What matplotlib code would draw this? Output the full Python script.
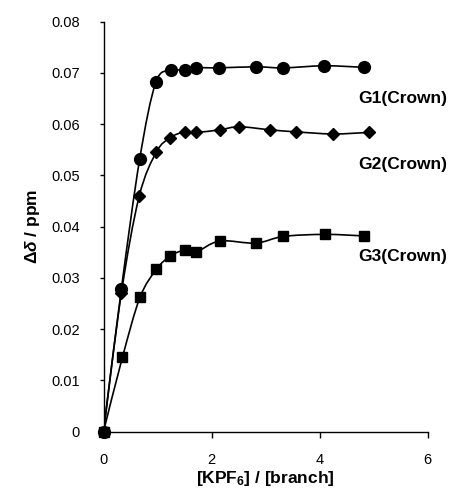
import numpy as np
import matplotlib
matplotlib.use('Agg')
import matplotlib.pyplot as plt
from matplotlib.path import Path
from matplotlib.patches import PathPatch

plt.rcParams['font.family'] = ['Liberation Sans', 'DejaVu Sans']
plt.rcParams['mathtext.fontset'] = 'custom'
plt.rcParams['mathtext.rm'] = 'Liberation Sans:bold'
plt.rcParams['mathtext.it'] = 'Liberation Sans:bold:italic'
plt.rcParams['mathtext.bf'] = 'Liberation Sans:bold'

# titration data: [KPF6]/[branch] vs chemical shift change
g1_x = [0, 0.33, 0.67, 0.97, 1.25, 1.50, 1.72, 2.14, 2.82, 3.33, 4.09, 4.82]
g1_y = [0, 0.0278, 0.0532, 0.0682, 0.0705, 0.0705, 0.0710, 0.0710, 0.0712, 0.0710, 0.0714, 0.0711]

g2_x = [0, 0.33, 0.66, 0.98, 1.24, 1.50, 1.72, 2.15, 2.51, 3.09, 3.57, 4.25, 4.92]
g2_y = [0, 0.0270, 0.0459, 0.0546, 0.0574, 0.0585, 0.0584, 0.0589, 0.0595, 0.0589, 0.0585, 0.0581, 0.0584]

g3_x = [0, 0.35, 0.675, 0.98, 1.24, 1.50, 1.72, 2.15, 2.82, 3.33, 4.10, 4.82]
g3_y = [0, 0.0145, 0.0262, 0.0317, 0.0343, 0.0354, 0.0351, 0.0372, 0.0368, 0.0381, 0.0385, 0.0382]

labels = ['G1(Crown)', 'G2(Crown)', 'G3(Crown)']
label_y = [0.0641, 0.0513, 0.0334]


def smooth_path(x, y):
    # cubic bezier through points, catmull-rom style tangents
    p = np.column_stack([x, y]).astype(float)
    n = len(p)
    verts = [p[0]]
    codes = [Path.MOVETO]
    for i in range(n - 1):
        p0 = p[i - 1] if i > 0 else p[i]
        p3 = p[i + 2] if i + 2 < n else p[i + 1]
        c1 = p[i] + (p[i + 1] - p0) / 6.0
        c2 = p[i + 1] - (p3 - p[i]) / 6.0
        verts += [c1, c2, p[i + 1]]
        codes += [Path.CURVE4] * 3
    return Path(verts, codes)


fig = plt.figure(figsize=(4.51, 4.88), dpi=100)
ax = fig.add_axes([0.2295, 0.1154, 0.7185, 0.8401])

series = [(g1_x, g1_y, 'o', 8.5), (g2_x, g2_y, 'D', 6.5), (g3_x, g3_y, 's', 7.5)]
for x, y, m, ms in series:
    ax.add_patch(PathPatch(smooth_path(x, y), fill=False, edgecolor='black', lw=1.2))
    ax.plot(x, y, linestyle='none', marker=m, markersize=ms, color='black',
            clip_on=False, zorder=3)

for txt, ly in zip(labels, label_y):
    ax.text(4.71, ly, txt, fontsize=12.5, fontweight='bold', va='baseline', ha='left',
            clip_on=False)

ax.set_xlim(0, 6)
ax.set_ylim(0, 0.08)
ax.set_xticks([0, 2, 4, 6])
yt = [0, 0.01, 0.02, 0.03, 0.04, 0.05, 0.06, 0.07, 0.08]
ax.set_yticks(yt)
ax.set_yticklabels(['0'] + ['%.2f' % v for v in yt[1:]])
ax.tick_params(axis='x', direction='out', length=4, width=1, labelsize=10.5, pad=11)
ax.tick_params(axis='y', direction='out', length=3, width=1, labelsize=10.5, pad=14)
ax.spines['top'].set_visible(False)
ax.spines['right'].set_visible(False)
for s in ['left', 'bottom']:
    ax.spines[s].set_linewidth(1)

ax.set_xlabel(r'[KPF$_6$] / [branch]', fontsize=12.5, fontweight='bold')
ax.set_ylabel(r'$\Delta\delta$ / ppm', fontsize=12.5, fontweight='bold')
ax.xaxis.set_label_coords(0.5, -0.092)
ax.yaxis.set_label_coords(-0.19, 0.5)

fig.savefig('out.png', dpi=100)
